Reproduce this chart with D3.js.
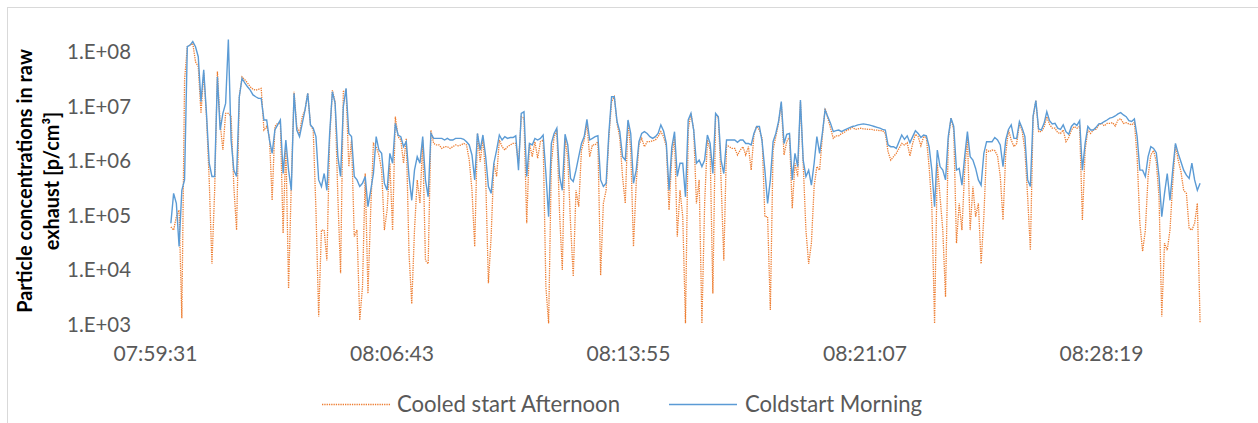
<!DOCTYPE html>
<html>
<head>
<meta charset="utf-8">
<script src="https://cdn.jsdelivr.net/npm/d3@7/dist/d3.min.js"></script>
<style>
html,body{margin:0;padding:0;background:#fff;}
svg{display:block;}
</style>
</head>
<body>
<svg id="chart" width="1258" height="423"></svg>
<script>
const seriesNames = ["Cooled start Afternoon", "Coldstart Morning"];
const seriesColors = ["#ED7D31", "#5B9BD5"];
const yTicks = [1e3, 1e4, 1e5, 1e6, 1e7, 1e8];
const xTickLabels = ["07:59:31", "08:06:43", "08:13:55", "08:21:07", "08:28:19"];
const yTitleLines = ["Particle concentrations in raw", "exhaust [p/cm\u00B3]"];
const dataStart = "08:00:00";
const stepSeconds = 5;

const afternoon = [
6.2e4,5.4e4,9.5e4,1.26e5,1.3e3,3.1e7,1.25e8,1.34e8,1.44e8,6.6e7,
5.4e7,7.5e6,4.1e7,6.5e6,4.5e5,1.3e4,2.9e5,4.4e7,4.9e6,1.59e6,
7.5e6,7.5e6,6.5e6,3.4e5,5.4e4,1.51e7,3.5e7,3.1e7,2.7e7,2.3e7,
2.07e7,2.0e7,2.07e7,2.15e7,3.7e6,4.3e6,2.8e6,1.9e5,4.3e6,4.9e6,
4.9e6,4.7e4,2.1e6,4.6e3,3.9e5,1.87e7,4.3e6,3.2e6,6.5e6,8.6e6,
1.75e7,4.6e6,3.7e6,1.26e5,1.4e3,5.4e4,5.4e4,1.5e4,2.43e6,2.0e7,
1.23e7,2.2e5,8.7e3,1.87e7,2.0e7,7.9e5,2.43e6,4.1e4,5.4e4,1.2e3,
4.9e3,5.9e5,3.7e3,1.26e5,2.1e6,1.83e6,1.29e6,6.8e5,5.4e4,1.26e5,
9.1e5,5.4e4,6.5e6,2.8e6,2.43e6,9.1e5,2.6e6,2.0e4,2.4e3,5.4e4,
4.5e5,1.67e5,2.43e6,1.5e4,1.3e4,3.7e6,2.1e6,1.97e6,1.97e6,1.7e6,
1.83e6,1.83e6,1.7e6,1.83e6,1.97e6,1.9e6,1.97e6,2.1e6,1.97e6,1.04e6,
2.9e5,2.7e4,3.2e6,9.7e5,2.6e6,5.2e5,5.7e3,4.1e4,9.1e5,5.2e5,
2.43e6,1.83e6,1.59e6,1.83e6,1.97e6,2.1e6,2.1e6,9.1e5,6.5e6,6.1e6,
7.2e4,2.1e6,1.2e6,2.26e6,1.12e6,2.26e6,2.43e6,4.9e3,1.05e3,9.1e5,
2.8e6,3.45e6,1.1e5,1.0e4,2.6e6,1.12e6,7.2e4,7.6e3,2.9e5,1.45e5,
1.59e6,2.43e6,4.9e6,1.2e6,1.97e6,1.97e6,2.26e6,8e3,1.67e5,2.9e5,
2.6e6,1.23e7,1.51e7,4.9e6,2.7e6,5.2e5,1.67e5,5.3e6,1.59e6,2.7e4,
3.9e5,1.97e6,2.6e6,1.83e6,2.26e6,2.26e6,2.35e6,2.43e6,2.8e6,3.45e6,
2.8e6,1.83e6,1.26e5,1.2e6,2.8e6,4.1e4,2.9e5,9.5e4,1.05e3,3.7e6,
7.5e6,3.7e6,1.67e5,4.5e5,1.05e3,1.67e5,2.43e6,1.59e6,3.7e3,6.5e6,
6.5e6,4.5e5,1.5e4,1.97e6,1.83e6,1.7e6,1.7e6,1.29e6,1.59e6,1.83e6,
1.29e6,1.83e6,6.8e5,3.0e6,4.3e6,3.7e6,2.6e6,9.5e4,9.5e4,1.85e3,
1.59e6,2.8e6,4.9e6,1.14e7,1.29e6,2.26e6,2.8e6,1.35e5,9.1e5,5.2e5,
1.23e7,9.1e5,5.4e4,1.3e4,3.1e4,3.4e5,7.9e5,6.8e5,2.8e6,9.3e6,
6.1e6,4.0e6,2.6e6,2.9e6,2.9e6,3.2e6,3.35e6,3.7e6,3.8e6,4.15e6,
3.8e6,3.9e6,4.0e6,3.9e6,3.85e6,3.8e6,3.8e6,3.7e6,3.7e6,3.6e6,
3.6e6,3.2e6,1.48e6,1.04e6,1.2e6,1.38e6,1.7e6,2.1e6,1.97e6,2.17e6,
1.24e6,2.1e6,3.1e6,2.8e6,1.9e6,2.8e6,2.7e6,7.9e5,1.45e5,1.05e3,
9.1e5,2.2e5,5.4e4,3.2e3,2.43e6,6.1e6,3.7e6,3.1e4,1.67e5,5.4e4,
6.8e5,2.8e6,5.4e4,3.4e5,9.5e4,1.67e5,1.3e4,9.5e4,1.59e6,1.48e6,
1.59e6,1.55e6,1.24e6,5.2e5,8.3e4,1.38e6,3.7e6,2.43e6,1.83e6,2.1e6,
4.9e6,3.55e6,1.59e6,2.2e5,2.3e4,6.3e6,1.28e7,3.45e6,3.45e6,4.15e6,
6.5e6,4.7e6,4.0e6,4.0e6,3.3e6,3.2e6,3.7e6,2.26e6,2.7e6,3.7e6,
4.3e6,4.0e6,4.3e6,8.3e4,1.59e6,3.7e6,3.2e6,3.7e6,3.85e6,4.6e6,
4.9e6,4.4e6,4.9e6,4.9e6,5.05e6,4.4e6,5.65e6,6.0e6,4.9e6,5.05e6,
4.8e6,4.6e6,5.1e6,1.2e6,7.2e4,2.2e4,5.4e4,5.2e5,1.29e6,1.55e6,
9.7e5,2.2e5,1.4e3,3.1e4,2.3e4,5.4e4,3.9e5,1.97e6,1.04e6,6.4e5,
2.9e5,2.55e5,5.8e4,5.4e4,7.2e4,1.67e5,1.05e3
];

const morning = [
7.2e4,2.55e5,1.67e5,2.7e4,2.9e5,4.5e5,1.25e8,1.34e8,1.55e8,1.25e8,
8.2e7,1.23e7,4.7e7,7.5e6,9.1e5,5.2e5,5.2e5,3.5e7,3.7e6,7.5e6,
1.14e7,1.7e8,2.43e6,6.8e5,5.2e5,1.51e7,3.3e7,2.7e7,2.3e7,2.0e7,
1.63e7,1.51e7,1.41e7,1.41e7,5.65e6,5.65e6,2.43e6,1.38e6,3.7e6,4.6e6,
5.65e6,5.9e5,2.43e6,6.8e5,2.9e5,1.75e7,3.7e6,2.8e6,4.9e6,8.6e6,
1.75e7,4.6e6,4.0e6,2.8e6,4.5e5,3.4e5,5.9e5,2.9e5,3.2e6,1.87e7,
1.14e7,1.2e6,5.2e5,9.9e6,2.15e7,3.2e6,2.8e6,5.2e5,4.5e5,3.4e5,
3.9e5,5.2e5,1.45e5,2.9e5,5.9e5,2.8e6,1.59e6,1.38e6,3.9e5,2.9e5,
1.38e6,9.1e5,4.9e6,3.0e6,2.8e6,1.83e6,2.26e6,5.2e5,1.9e5,6.8e5,
1.2e6,9.1e5,2.8e6,4.5e5,2.2e5,3.2e6,2.6e6,2.6e6,2.6e6,2.6e6,
2.43e6,2.6e6,2.43e6,2.43e6,2.6e6,2.6e6,2.6e6,2.5e6,2.26e6,1.97e6,
1.29e6,4.5e5,3.2e6,1.59e6,3.0e6,1.2e6,3.4e5,2.55e5,9.1e5,1.59e6,
3.0e6,2.43e6,2.8e6,2.6e6,2.7e6,2.7e6,2.9e6,6.8e5,7.5e6,8.0e6,
5.2e5,2.1e6,1.97e6,2.6e6,2.43e6,2.6e6,3.0e6,5.9e5,9.5e4,2.1e6,
3.2e6,4.0e6,5.2e5,2.9e5,3.1e6,1.97e6,4.8e5,4.2e5,6.8e5,1.2e6,
2.1e6,2.8e6,5.8e6,2.43e6,2.6e6,2.8e6,2.9e6,4.5e5,3.4e5,3.9e5,
3.2e6,1.51e7,1.51e7,5.3e6,3.45e6,1.2e6,1.04e6,5.65e6,3.2e6,3.9e5,
6.8e5,2.26e6,3.2e6,3.45e6,3.2e6,2.8e6,2.6e6,2.8e6,3.2e6,4.6e6,
3.55e6,2.1e6,2.9e5,1.78e6,3.45e6,5.2e5,9.1e5,9.1e5,2.2e5,5.65e6,
7.5e6,3.7e6,9.1e5,1.04e6,7.9e5,1.04e6,3.0e6,2.1e6,5.9e5,7.5e6,
6.5e6,1.04e6,5.9e5,2.43e6,2.43e6,2.43e6,2.43e6,2.2e6,2.43e6,2.43e6,
2.1e6,2.1e6,1.97e6,3.2e6,4.3e6,4.3e6,2.26e6,6.8e5,1.67e5,4.5e5,
2.26e6,3.2e6,5.3e6,1.23e7,2.1e6,3.1e6,3.2e6,4.5e5,1.38e6,7.9e5,
1.32e7,1.04e6,5.2e5,6.8e5,3.6e5,9.1e5,2.8e6,1.38e6,3.2e6,8.6e6,
6.5e6,4.9e6,3.45e6,3.6e6,3.7e6,3.45e6,3.7e6,3.9e6,4.1e6,4.3e6,
4.4e6,4.6e6,4.7e6,4.8e6,4.7e6,4.6e6,4.45e6,4.3e6,4.15e6,4.0e6,
3.8e6,3.7e6,1.97e6,1.83e6,1.83e6,1.7e6,2.26e6,3.0e6,2.5e6,2.9e6,
2.17e6,2.8e6,3.6e6,3.2e6,2.7e6,3.0e6,2.9e6,1.83e6,6.8e5,1.45e5,
1.59e6,7.9e5,6.8e5,4.5e5,2.8e6,6.1e6,4.3e6,6.8e5,7.3e5,3.6e5,
1.2e6,3.45e6,1.2e6,1.04e6,7.3e5,4.5e5,3.6e5,1.38e6,2.26e6,2.26e6,
2.26e6,2.7e6,2.43e6,1.97e6,7.9e5,2.43e6,3.8e6,4.6e6,2.6e6,2.6e6,
5.3e6,4.0e6,2.8e6,4.5e5,3.4e5,6.7e6,1.28e7,3.9e6,3.7e6,4.9e6,
8.0e6,5.5e6,4.8e6,4.9e6,4.0e6,3.8e6,4.6e6,3.45e6,3.1e6,4.3e6,
4.9e6,4.5e6,5.5e6,6.8e5,2.1e6,4.3e6,3.7e6,3.7e6,4.15e6,4.8e6,
4.9e6,5.3e6,5.65e6,6.1e6,6.3e6,6.7e6,7.3e6,7.7e6,7.0e6,6.5e6,
5.5e6,5.3e6,5.9e6,2.8e6,6.8e5,6.8e5,5.2e5,1.2e6,1.83e6,1.7e6,
1.42e6,5.2e5,9.5e4,2.55e5,5.9e5,1.9e5,6.8e5,2.1e6,1.38e6,9.7e5,
6.8e5,5.5e5,4.8e5,9.1e5,4.5e5,2.9e5,3.9e5
];

const FONT = "Lato, 'Liberation Sans', sans-serif";
const svg = d3.select("#chart");
const parse = d3.utcParse("%H:%M:%S");
const fmt = d3.utcFormat("%H:%M:%S");
const t0 = parse(dataStart).getTime();
const times = afternoon.map((_, i) => new Date(t0 + i * stepSeconds * 1000));

const x = d3.scaleUtc()
  .domain([parse(xTickLabels[0]), parse(xTickLabels[xTickLabels.length - 1])])
  .range([155, 1101]);
const y = d3.scaleLog().domain([1e3, 1e8]).range([324.5, 52]);

function fit(sel, target) {
  const n = sel.node();
  const fs = parseFloat(getComputedStyle(n).fontSize);
  const w = n.getComputedTextLength();
  return fs * target / w;
}

// chart border
svg.append("rect").attr("x", 7.5).attr("y", 7.5).attr("width", 1262).attr("height", 440)
  .attr("fill", "none").attr("stroke", "#D9D9D9").attr("stroke-width", 1);

// y axis
const gy = svg.append("g").attr("transform", "translate(155,0)")
  .call(d3.axisLeft(y).tickValues(yTicks).tickSize(0).tickPadding(24)
    .tickFormat(d => "1.E+" + String(Math.round(Math.log10(d))).padStart(2, "0")));
gy.select(".domain").remove();
gy.attr("font-family", FONT).attr("font-size", 20);
gy.selectAll("text").attr("fill", "#595959");
const yfs = fit(gy.select("text"), 64);
gy.attr("font-size", yfs);

// x axis
const gx = svg.append("g").attr("transform", "translate(0,324.5)")
  .call(d3.axisBottom(x).tickValues(xTickLabels.map(parse)).tickSize(0).tickFormat(fmt));
gx.select(".domain").remove();
gx.attr("font-family", FONT).attr("font-size", 20);
gx.selectAll("text").attr("fill", "#595959").attr("dy", null).attr("y", 36);
const xfs = fit(gx.select("text"), 84);
gx.attr("font-size", xfs);

// y title
const titleG = svg.append("g").attr("font-family", FONT).attr("font-weight", "bold").attr("fill", "#000");
const tl = yTitleLines.map((s, k) => titleG.append("text")
  .attr("transform", `translate(${k === 0 ? 25 : 52},181) rotate(-90)`)
  .attr("text-anchor", "middle").attr("dy", "0.35em").attr("font-size", 18).text(s));
const tfs = fit(tl[0], 264);
tl.forEach(t => t.attr("font-size", tfs));

// lines
const line = d3.line().x((d, i) => x(times[i])).y(d => y(d));
svg.append("path").datum(afternoon).attr("d", line).attr("fill", "none")
  .attr("stroke", seriesColors[0]).attr("stroke-width", 1.3).attr("stroke-dasharray", "1.3 1");
svg.append("path").datum(morning).attr("d", line).attr("fill", "none")
  .attr("stroke", seriesColors[1]).attr("stroke-width", 1.4);

// legend
const lg = svg.append("g").attr("font-family", FONT).attr("font-size", 20);
const legendItems = [{x1: 322, x2: 390, tx: 397, dash: "1.3 1"}, {x1: 669, x2: 737, tx: 745, dash: null}];
const ltexts = legendItems.map((it, k) => {
  lg.append("line").attr("x1", it.x1).attr("x2", it.x2).attr("y1", 404.5).attr("y2", 404.5)
    .attr("stroke", seriesColors[k]).attr("stroke-width", k === 0 ? 1.3 : 1.4)
    .attr("stroke-dasharray", it.dash);
  return lg.append("text").attr("x", it.tx).attr("y", 404.5).attr("dy", "0.35em")
    .attr("fill", "#595959").text(seriesNames[k]);
});
const lfs = fit(ltexts[0], 223);
lg.attr("font-size", lfs);
</script>
</body>
</html>
